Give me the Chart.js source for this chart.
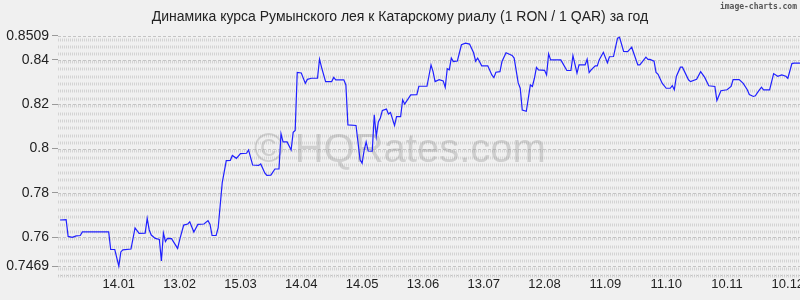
<!DOCTYPE html>
<html lang="ru">
<head>
    <meta charset="UTF-8">
    <title>RON / QAR</title>
    <script src="https://cdn.jsdelivr.net/npm/chart.js"></script>
    <style>
        body { margin: 0; background: #f0f0f0; overflow: hidden; }
        canvas { display: block; }
    </style>
</head>
<body>
    <canvas id="rateChart" width="820" height="300"></canvas>

    <script>
        // day offsets from 15.12 of the previous year, and the RON/QAR rate on that day
        const days = [1, 4, 5, 7, 9, 11, 12, 25, 26, 28, 30, 31, 32, 36, 38, 40, 43, 44, 45, 46,
            48, 50, 51, 52, 53, 54, 56, 59, 60, 62, 64, 65, 67, 69, 72, 74, 75, 76, 78, 79,
            81, 83, 85, 86, 88, 90, 93, 94, 96, 99, 100, 102, 103, 105, 107, 109, 110, 111, 113, 115,
            116, 117, 118, 120, 122, 123, 125, 128, 129, 130, 132, 135, 136, 137, 141, 142, 143, 147, 149, 150,
            151, 152, 153, 155, 156, 157, 158, 159, 160, 162, 163, 164, 166, 167, 169, 170, 171, 174, 177, 178,
            182, 184, 185, 186, 188, 190, 191, 192, 193, 194, 195, 197, 199, 201, 203, 205, 206, 207, 209, 212,
            214, 215, 216, 218, 219, 221, 224, 225, 227, 228, 229, 231, 233, 234, 235, 236, 237, 240, 241, 242,
            243, 248, 249, 251, 253, 254, 256, 257, 260, 261, 262, 263, 265, 266, 267, 269, 271, 272, 274, 276,
            277, 279, 281, 283, 284, 286, 287, 290, 291, 292, 294, 295, 296, 298, 300, 302, 303, 304, 305, 307,
            308, 311, 312, 315, 317, 319, 321, 324, 325, 327, 330, 332, 333, 336, 338, 340, 341, 343, 344, 345,
            346, 347, 348, 351, 353, 355, 357, 359, 360, 362, 363, 366];
        const rates = [0.7678, 0.7680, 0.7604, 0.7600, 0.7606, 0.7608, 0.7624, 0.7624, 0.7545, 0.7545, 0.7470, 0.7534, 0.7543, 0.7547, 0.7642, 0.7618, 0.7619, 0.7685, 0.7633, 0.7610,
            0.7595, 0.7590, 0.7493, 0.7619, 0.7581, 0.7595, 0.7594, 0.7550, 0.7588, 0.7655, 0.7660, 0.7670, 0.7624, 0.7658, 0.7660, 0.7675, 0.7658, 0.7608, 0.7608, 0.7642,
            0.7845, 0.7946, 0.7947, 0.7969, 0.7956, 0.7977, 0.7979, 0.7994, 0.7926, 0.7924, 0.7931, 0.7890, 0.7879, 0.7880, 0.7908, 0.7908, 0.8067, 0.8030, 0.8030, 0.7994,
            0.8073, 0.8082, 0.8343, 0.8341, 0.8294, 0.8312, 0.8317, 0.8317, 0.8403, 0.8366, 0.8302, 0.8302, 0.8321, 0.8310, 0.8310, 0.8287, 0.8107, 0.8104, 0.7949, 0.7934,
            0.7992, 0.8030, 0.7989, 0.7988, 0.8152, 0.8054, 0.8120, 0.8138, 0.8172, 0.8178, 0.8156, 0.8163, 0.8104, 0.8144, 0.8144, 0.8220, 0.8201, 0.8242, 0.8243, 0.8281,
            0.8281, 0.8377, 0.8347, 0.8302, 0.8311, 0.8305, 0.8276, 0.8360, 0.8355, 0.8408, 0.8392, 0.8395, 0.8468, 0.8475, 0.8471, 0.8432, 0.8394, 0.8408, 0.8373, 0.8373,
            0.8332, 0.8320, 0.8344, 0.8347, 0.8393, 0.8432, 0.8420, 0.8408, 0.8296, 0.8272, 0.8174, 0.8168, 0.8287, 0.8280, 0.8317, 0.8366, 0.8355, 0.8353, 0.8332, 0.8427,
            0.8400, 0.8400, 0.8384, 0.8352, 0.8352, 0.8419, 0.8340, 0.8377, 0.8377, 0.8403, 0.8343, 0.8355, 0.8373, 0.8373, 0.8401, 0.8434, 0.8387, 0.8414, 0.8415, 0.8498,
            0.8502, 0.8438, 0.8437, 0.8457, 0.8430, 0.8377, 0.8377, 0.8412, 0.8402, 0.8402, 0.8394, 0.8343, 0.8335, 0.8295, 0.8272, 0.8272, 0.8284, 0.8265, 0.8325, 0.8367,
            0.8367, 0.8310, 0.8302, 0.8312, 0.8347, 0.8321, 0.8283, 0.8280, 0.8217, 0.8261, 0.8265, 0.8280, 0.8311, 0.8311, 0.8294, 0.8265, 0.8244, 0.8235, 0.8238, 0.8252,
            0.8265, 0.8277, 0.8265, 0.8265, 0.8338, 0.8326, 0.8332, 0.8326, 0.8317, 0.8383, 0.8385, 0.8385];

        const tickDays = [30, 60, 90, 120, 150, 180, 210, 240, 270, 300, 330, 360];
        const tickLabels = ['14.01', '13.02', '15.03', '14.04', '14.05', '13.06', '13.07', '12.08', '11.09', '11.10', '10.11', '10.12'];
        const yTicks = [0.7469, 0.76, 0.78, 0.80, 0.82, 0.84, 0.8509];
        const yTickLabels = ['0.7469', '0.76', '0.78', '0.8', '0.82', '0.84', '0.8509'];

        const points = days.map((d, i) => ({ x: d, y: rates[i] }));

        // background, striped grid and watermark
        const decor = {
            id: 'decor',
            beforeDraw(chart) {
                const ctx = chart.ctx;
                ctx.save();
                ctx.fillStyle = '#f0f0f0';
                ctx.fillRect(0, 0, chart.width, chart.height);
                ctx.restore();
            },
            beforeDatasetsDraw(chart) {
                const { ctx, chartArea: a, scales: { y } } = chart;
                ctx.save();
                // minor rows every 1/6 of a major step
                ctx.strokeStyle = '#d3d3d3';
                ctx.lineWidth = 3;
                ctx.setLineDash([1, 1]);
                for (let k = -6; k <= 30; k++) {
                    const v = 0.76 + k * 0.02 / 6;
                    const py = Math.round(y.getPixelForValue(v));
                    if (py < a.top || py > a.bottom) continue;
                    ctx.beginPath();
                    ctx.moveTo(a.left, py + 2);
                    ctx.lineTo(a.right, py + 2);
                    ctx.stroke();
                }
                // major dashed lines
                ctx.strokeStyle = '#c4c4c4';
                ctx.lineWidth = 1;
                ctx.setLineDash([3, 2]);
                yTicks.forEach(v => {
                    const py = Math.round(y.getPixelForValue(v)) + 0.5;
                    ctx.beginPath();
                    ctx.moveTo(a.left, py);
                    ctx.lineTo(a.right, py);
                    ctx.stroke();
                });
                ctx.setLineDash([1, 2]);
                ctx.beginPath();
                ctx.moveTo(a.left, a.bottom + 0.5);
                ctx.lineTo(a.right, a.bottom + 0.5);
                ctx.stroke();
                // watermark
                ctx.setLineDash([]);
                ctx.fillStyle = 'rgba(140,140,140,0.32)';
                ctx.font = '40px "Liberation Sans", Arial, sans-serif';
                ctx.textAlign = 'center';
                ctx.textBaseline = 'alphabetic';
                ctx.fillText('\u00a9 HQRates.com', 400, 162);
                // credit
                ctx.fillStyle = '#555';
                ctx.font = 'bold 8px "DejaVu Sans Mono", monospace';
                ctx.textAlign = 'right';
                ctx.textBaseline = 'top';
                ctx.fillText('image-charts.com', 797, 3);
                ctx.restore();
            }
        };

        const ctx = document.getElementById('rateChart').getContext('2d');
        const rateChart = new Chart(ctx, {
            type: 'line',
            data: {
                datasets: [{
                    data: points,
                    borderColor: '#2020ff',
                    borderWidth: 1.2,
                    pointRadius: 0,
                    tension: 0,
                    fill: false
                }]
            },
            options: {
                responsive: false,
                animation: false,
                layout: { padding: { left: 0, right: 20, top: 0, bottom: 0 } },
                plugins: {
                    legend: { display: false },
                    tooltip: { enabled: false },
                    title: {
                        display: true,
                        text: 'Динамика курса Румынского лея к Катарскому риалу (1 RON / 1 QAR) за год',
                        color: '#222',
                        font: { family: '"Liberation Sans", Arial, sans-serif', size: 14, weight: 'normal' },
                        padding: { top: 9, bottom: 7 }
                    }
                },
                scales: {
                    x: {
                        type: 'linear',
                        min: 0,
                        max: 366,
                        afterBuildTicks: scale => { scale.ticks = tickDays.map(v => ({ value: v })); },
                        afterFit: scale => { scale.height = 25; },
                        ticks: {
                            autoSkip: false,
                            maxRotation: 0,
                            padding: 2,
                            color: '#222',
                            font: { family: '"Liberation Sans", Arial, sans-serif', size: 13 },
                            callback: (v, i) => tickLabels[i]
                        },
                        grid: { display: false, drawTicks: false },
                        border: { display: false }
                    },
                    y: {
                        min: 0.7430,
                        max: 0.8522,
                        afterBuildTicks: scale => { scale.ticks = yTicks.map(v => ({ value: v })); },
                        afterFit: scale => { scale.width = 58; },
                        ticks: {
                            padding: 3,
                            color: '#222',
                            font: { family: '"Liberation Sans", Arial, sans-serif', size: 14 },
                            callback: (v, i) => yTickLabels[i]
                        },
                        grid: { drawOnChartArea: false, drawTicks: true, tickLength: 6, tickColor: '#999' },
                        border: { display: false }
                    }
                }
            },
            plugins: [decor]
        });
    </script>
</body>
</html>
